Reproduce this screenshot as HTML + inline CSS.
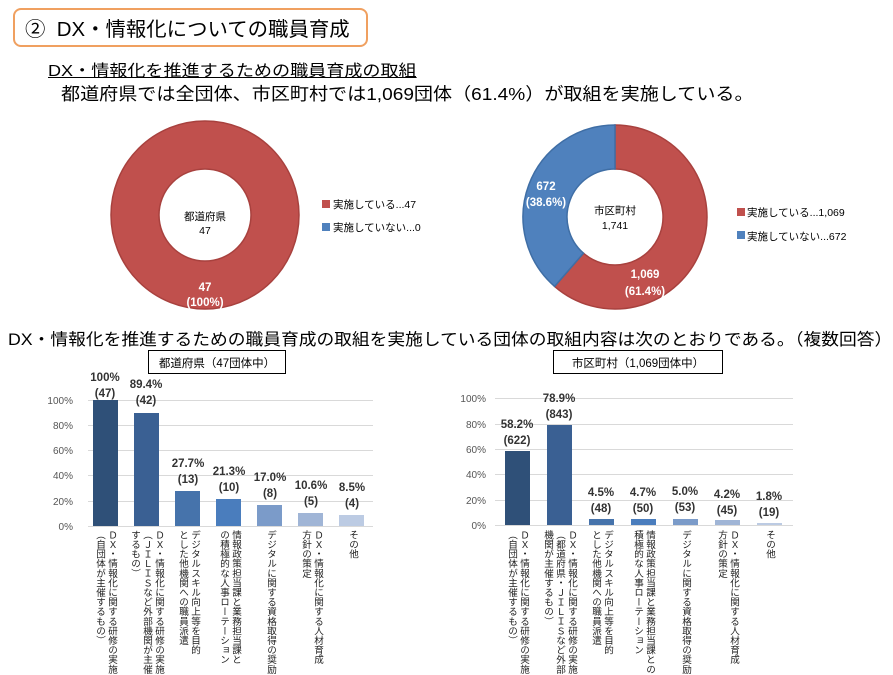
<!DOCTYPE html>
<html><head><meta charset="utf-8">
<style>
body{margin:0;width:893px;height:675px;background:#fff;position:relative;overflow:hidden;font-family:"Liberation Sans","Noto Sans CJK JP",sans-serif;color:#000}
.a{position:absolute;white-space:nowrap}
.v{position:absolute;writing-mode:vertical-rl;font-size:9.6px;line-height:12px;color:#222;transform:translateX(-50%);top:530px;white-space:nowrap}
</style></head><body>
<div class="a" style="left:13px;top:8px;width:351px;height:35px;border:2px solid #f0a060;border-radius:8px"></div>
<div class="a" style="left:25px;top:13px;font-size:20px;transform:scaleX(1.02);transform-origin:left">②&nbsp; DX・情報化についての職員育成</div>
<div class="a" style="left:48px;top:57px;font-size:16px;text-decoration:underline;transform:scaleX(1.13);transform-origin:left">DX・情報化を推進するための職員育成の取組</div>
<div class="a" style="left:61px;top:81px;font-size:17.5px;transform:scaleX(1.09);transform-origin:left">都道府県では全団体、市区町村では1,069団体（61.4%）が取組を実施している。</div>
<div class="a" style="left:8px;top:326px;font-size:16.5px;transform:scaleX(1.075);transform-origin:left">DX・情報化を推進するための職員育成の取組を実施している団体の取組内容は次のとおりである。（複数回答）</div>

<svg class="a" style="left:0;top:0" width="893" height="675" font-family="Liberation Sans,Noto Sans CJK JP,sans-serif">
 <circle cx="205" cy="215" r="70" fill="none" stroke="#c0504d" stroke-width="48"/>
 <circle cx="205" cy="215" r="94" fill="none" stroke="#a8413e" stroke-width="1.5"/>
 <circle cx="205" cy="215" r="46" fill="#fff" stroke="#a8413e" stroke-width="1.5"/>
 <text x="205" y="220" font-size="10.5" text-anchor="middle">都道府県</text>
 <text x="205" y="234" font-size="10.5" text-anchor="middle">47</text>
 <text x="205" y="291" font-size="11.5" font-weight="bold" fill="#fff" text-anchor="middle">47</text>
 <text x="205" y="306" font-size="11.5" font-weight="bold" fill="#fff" text-anchor="middle">(100%)</text>
 <rect x="322" y="200" width="8" height="8" fill="#c0504d"/>
 <text x="333" y="208" font-size="10.5">実施している...47</text>
 <rect x="322" y="223" width="8" height="8" fill="#4f81bd"/>
 <text x="333" y="231" font-size="10.5">実施していない...0</text>
 <path d="M615 125 A92 92 0 1 1 554.6 286.4 L583.5 253.2 A48 48 0 1 0 615 169 Z" fill="#c0504d" stroke="#a8413e" stroke-width="1.5"/>
 <path d="M554.6 286.4 A92 92 0 0 1 615 125 L615 169 A48 48 0 0 0 583.5 253.2 Z" fill="#4f81bd" stroke="#3f6ea5" stroke-width="1.5"/>
 <text x="615" y="214" font-size="10.5" text-anchor="middle">市区町村</text>
 <text x="615" y="229" font-size="10.5" text-anchor="middle">1,741</text>
 <text x="546" y="190" font-size="11.5" font-weight="bold" fill="#fff" text-anchor="middle">672</text>
 <text x="546" y="206" font-size="11.5" font-weight="bold" fill="#fff" text-anchor="middle">(38.6%)</text>
 <text x="645" y="278" font-size="11.5" font-weight="bold" fill="#fff" text-anchor="middle">1,069</text>
 <text x="645" y="295" font-size="11.5" font-weight="bold" fill="#fff" text-anchor="middle">(61.4%)</text>
 <rect x="737" y="208" width="8" height="8" fill="#c0504d"/>
 <text x="747" y="216" font-size="10.5">実施している...1,069</text>
 <rect x="737" y="231" width="8" height="8" fill="#4f81bd"/>
 <text x="747" y="240" font-size="10.5">実施していない...672</text>

 <rect x="148.5" y="350.5" width="137" height="23" fill="#fff" stroke="#000"/>
 <text x="217" y="367" font-size="11.5" text-anchor="middle">都道府県（47団体中）</text>
 <rect x="553.5" y="350.5" width="169" height="23" fill="#fff" stroke="#000"/>
 <text x="638" y="367" font-size="11.5" text-anchor="middle">市区町村（1,069団体中）</text>

 <g stroke="#d9d9d9" stroke-width="1">
  <line x1="88" x2="373" y1="400.5" y2="400.5"/><line x1="88" x2="373" y1="425.5" y2="425.5"/>
  <line x1="88" x2="373" y1="450.5" y2="450.5"/><line x1="88" x2="373" y1="475.5" y2="475.5"/>
  <line x1="88" x2="373" y1="501.5" y2="501.5"/><line x1="88" x2="373" y1="526.5" y2="526.5"/>
 </g>
 <g font-size="10" fill="#555" text-anchor="end">
  <text x="73" y="404">100%</text><text x="73" y="429">80%</text><text x="73" y="454">60%</text>
  <text x="73" y="479">40%</text><text x="73" y="505">20%</text><text x="73" y="530">0%</text>
 </g>
 <rect x="93" y="400" width="25" height="126" fill="#2f5078"/>
 <rect x="134" y="413" width="25" height="113" fill="#3a6093"/>
 <rect x="175" y="491" width="25" height="35" fill="#4673ab"/>
 <rect x="216" y="499" width="25" height="27" fill="#4a7dbd"/>
 <rect x="257" y="505" width="25" height="21" fill="#7b9bc9"/>
 <rect x="298" y="513" width="25" height="13" fill="#a0b5d6"/>
 <rect x="339" y="515" width="25" height="11" fill="#bccbe3"/>
 <g font-size="11.5" font-weight="bold" fill="#333" text-anchor="middle">
  <text x="105" y="381">100%</text><text x="105" y="397">(47)</text>
  <text x="146" y="388">89.4%</text><text x="146" y="404">(42)</text>
  <text x="188" y="467">27.7%</text><text x="188" y="483">(13)</text>
  <text x="229" y="475">21.3%</text><text x="229" y="491">(10)</text>
  <text x="270" y="481">17.0%</text><text x="270" y="497">(8)</text>
  <text x="311" y="489">10.6%</text><text x="311" y="505">(5)</text>
  <text x="352" y="491">8.5%</text><text x="352" y="507">(4)</text>
 </g>

 <g stroke="#d9d9d9" stroke-width="1">
  <line x1="495" x2="793" y1="398.5" y2="398.5"/><line x1="495" x2="793" y1="424.5" y2="424.5"/>
  <line x1="495" x2="793" y1="449.5" y2="449.5"/><line x1="495" x2="793" y1="474.5" y2="474.5"/>
  <line x1="495" x2="793" y1="500.5" y2="500.5"/><line x1="495" x2="793" y1="525.5" y2="525.5"/>
 </g>
 <g font-size="10" fill="#555" text-anchor="end">
  <text x="486" y="402">100%</text><text x="486" y="428">80%</text><text x="486" y="453">60%</text>
  <text x="486" y="478">40%</text><text x="486" y="504">20%</text><text x="486" y="529">0%</text>
 </g>
 <rect x="505" y="451" width="25" height="74" fill="#2f5078"/>
 <rect x="547" y="425" width="25" height="100" fill="#3a6093"/>
 <rect x="589" y="519" width="25" height="6" fill="#4673ab"/>
 <rect x="631" y="519" width="25" height="6" fill="#4a7dbd"/>
 <rect x="673" y="519" width="25" height="6" fill="#7b9bc9"/>
 <rect x="715" y="520" width="25" height="5" fill="#a0b5d6"/>
 <rect x="757" y="523" width="25" height="2" fill="#bccbe3"/>
 <g font-size="11.5" font-weight="bold" fill="#333" text-anchor="middle">
  <text x="517" y="428">58.2%</text><text x="517" y="444">(622)</text>
  <text x="559" y="402">78.9%</text><text x="559" y="418">(843)</text>
  <text x="601" y="496">4.5%</text><text x="601" y="512">(48)</text>
  <text x="643" y="496">4.7%</text><text x="643" y="512">(50)</text>
  <text x="685" y="495">5.0%</text><text x="685" y="511">(53)</text>
  <text x="727" y="498">4.2%</text><text x="727" y="514">(45)</text>
  <text x="769" y="500">1.8%</text><text x="769" y="516">(19)</text>
 </g>
</svg>

<div class="v" style="left:105px">ＤＸ・情報化に関する研修の実施<br>（自団体が主催するもの）</div>
<div class="v" style="left:146px">ＤＸ・情報化に関する研修の実施<br>（ＪＩＬＩＳなど外部機関が主催<br>するもの）</div>
<div class="v" style="left:188px">デジタルスキル向上等を目的<br>とした他機関への職員派遣</div>
<div class="v" style="left:229px">情報政策担当課と業務担当課と<br>の積極的な人事ローテーション</div>
<div class="v" style="left:270px">デジタルに関する資格取得の奨励</div>
<div class="v" style="left:311px">ＤＸ・情報化に関する人材育成<br>方針の策定</div>
<div class="v" style="left:352px">その他</div>

<div class="v" style="left:517px">ＤＸ・情報化に関する研修の実施<br>（自団体が主催するもの）</div>
<div class="v" style="left:559px">ＤＸ・情報化に関する研修の実施<br>（都道府県・ＪＩＬＩＳなど外部<br>機関が主催するもの）</div>
<div class="v" style="left:601px">デジタルスキル向上等を目的<br>とした他機関への職員派遣</div>
<div class="v" style="left:643px">情報政策担当課と業務担当課との<br>積極的な人事ローテーション</div>
<div class="v" style="left:685px">デジタルに関する資格取得の奨励</div>
<div class="v" style="left:727px">ＤＸ・情報化に関する人材育成<br>方針の策定</div>
<div class="v" style="left:769px">その他</div>
</body></html>
